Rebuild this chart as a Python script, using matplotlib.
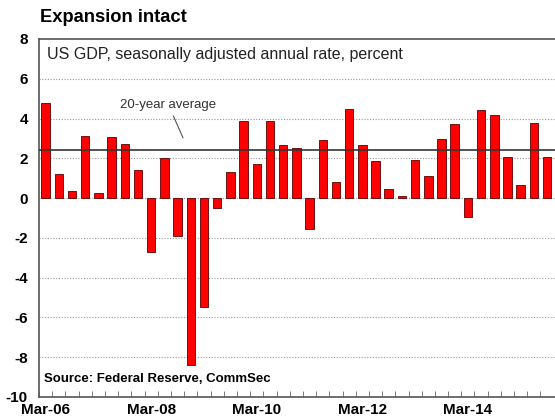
import matplotlib.pyplot as plt
import numpy as np

plt.rcParams['font.family'] = ['Liberation Sans', 'DejaVu Sans']

# quarterly US GDP growth, annualised, Mar-06 to Sep-15
quarters = ["Mar-06", "Jun-06", "Sep-06", "Dec-06", "Mar-07", "Jun-07", "Sep-07", "Dec-07",
            "Mar-08", "Jun-08", "Sep-08", "Dec-08", "Mar-09", "Jun-09", "Sep-09", "Dec-09",
            "Mar-10", "Jun-10", "Sep-10", "Dec-10", "Mar-11", "Jun-11", "Sep-11", "Dec-11",
            "Mar-12", "Jun-12", "Sep-12", "Dec-12", "Mar-13", "Jun-13", "Sep-13", "Dec-13",
            "Mar-14", "Jun-14", "Sep-14", "Dec-14", "Mar-15", "Jun-15", "Sep-15"]
gdp = [4.8, 1.2, 0.35, 3.1, 0.25, 3.05, 2.7, 1.4,
       -2.7, 2.0, -1.9, -8.4, -5.5, -0.5, 1.3, 3.9,
       1.7, 3.9, 2.65, 2.5, -1.55, 2.9, 0.8, 4.5,
       2.65, 1.85, 0.45, 0.1, 1.9, 1.1, 2.95, 3.75,
       -0.95, 4.45, 4.2, 2.05, 0.65, 3.8, 2.05]
avg_20yr = 2.4
xlabels = ["Mar-06", "Mar-08", "Mar-10", "Mar-12", "Mar-14"]

fig = plt.figure(figsize=(5.55, 4.19), dpi=100)
ax = fig.add_axes([39 / 555, 22 / 419, 1 - 39 / 555, 358 / 419])

x = np.arange(len(gdp))
ax.bar(x, gdp, width=0.64, color="#ff0000", edgecolor="#5a0000", linewidth=0.6, zorder=3)
ax.axhline(avg_20yr, color="#333333", linewidth=1.2, zorder=4)

ax.set_ylim(-10, 8)
ax.set_xlim(-0.45, 38.6)
ax.set_yticks(range(-10, 9, 2))
ax.set_yticklabels([str(v) for v in range(-10, 9, 2)], fontweight="bold", fontsize=11)

pos = [quarters.index(q) for q in xlabels]
ax.set_xticks(pos)
ax.set_xticklabels(xlabels, fontweight="bold", fontsize=11)
ax.set_xticks(np.arange(len(quarters)) - 0.5, minor=True)
ax.tick_params(axis="x", which="major", length=0, pad=4)
ax.tick_params(axis="x", which="minor", direction="in", length=4, color="#666666")
ax.tick_params(axis="y", length=0, pad=8)

for v in [-8, -6, -4, -2, 0, 2, 4, 6]:
    ax.axhline(v, color="#999999", linestyle=(0, (1, 1.5)), linewidth=0.8, zorder=1)

for s in ["left", "bottom", "top"]:
    ax.spines[s].set_color("#555555")
    ax.spines[s].set_linewidth(1.2)
ax.spines["right"].set_visible(False)

ax.annotate("20-year average", xy=(10.5, 2.9), xytext=(9.3, 4.4),
            fontsize=9.5, color="#333333", ha="center", va="bottom",
            arrowprops=dict(arrowstyle="-", color="#555555", linewidth=0.8))

ax.text(0.1, 7.2, "US GDP, seasonally adjusted annual rate, percent", fontsize=11.5,
        color="#222222", va="center")
ax.text(-0.15, -9.1, "Source: Federal Reserve, CommSec", fontsize=9.5,
        fontweight="bold", va="center")

fig.text(40 / 555, 1 - 18 / 419, "Expansion intact", fontsize=13.2, fontweight="bold",
         va="center")

fig.savefig("out.png", dpi=100)
